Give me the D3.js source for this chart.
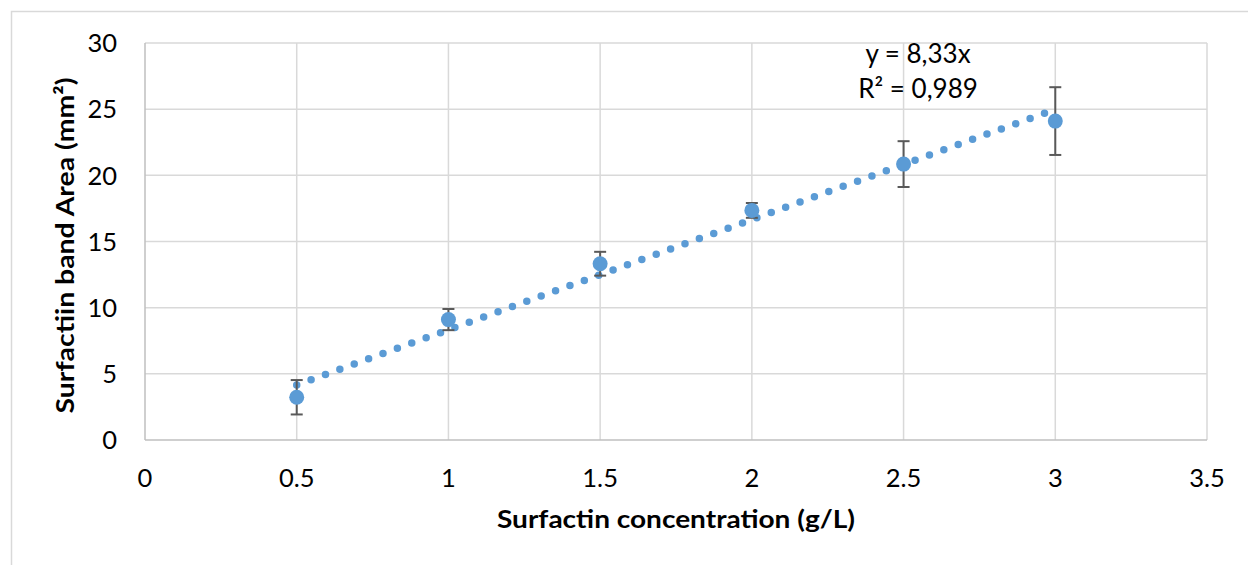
<!DOCTYPE html>
<html>
<head>
<meta charset="utf-8">
<script src="https://cdn.jsdelivr.net/npm/d3@7"></script>
<style>
  body { margin: 0; background: #fff; }
  text { font-family: Lato, "Open Sans", sans-serif; fill: #000; }
</style>
</head>
<body>
<div id="chart"></div>
<script>
// data
const concentration = [0.5, 1, 1.5, 2, 2.5, 3];
const bandArea = [3.23, 9.1, 13.32, 17.35, 20.85, 24.1];
const errorSize = [1.3, 0.8, 0.9, 0.56, 1.73, 2.56];
const slope = 8.33;
const eqLabel = 'y = 8,33x';
const r2Label = 'R² = 0,989';
const xTicks = [0, 0.5, 1, 1.5, 2, 2.5, 3, 3.5];
const yTicks = [0, 5, 10, 15, 20, 25, 30];

const width = 1248, height = 565;
const margin = {top: 43, right: 41, bottom: 125, left: 145};

const svg = d3.select('#chart').append('svg')
    .attr('width', width)
    .attr('height', height);

// outer chart border
svg.append('rect')
    .attr('x', 11.5).attr('y', 11.5)
    .attr('width', width + 10).attr('height', height + 10)
    .style('fill', 'none')
    .style('stroke', '#d9d9d9')
    .style('stroke-width', 1.5);

const x = d3.scaleLinear().domain([0, 3.5]).range([margin.left, width - margin.right]);
const y = d3.scaleLinear().domain([0, 30]).range([height - margin.bottom, margin.top]);

const g = svg.append('g');

// gridlines
g.selectAll('.vgrid').data(xTicks.slice(1))
    .join('line')
    .attr('x1', d => x(d)).attr('x2', d => x(d))
    .attr('y1', y(0)).attr('y2', y(30))
    .style('stroke', '#d9d9d9').style('stroke-width', 1.5);

g.selectAll('.hgrid').data(yTicks.slice(1))
    .join('line')
    .attr('x1', x(0)).attr('x2', x(3.5))
    .attr('y1', d => y(d)).attr('y2', d => y(d))
    .style('stroke', '#d9d9d9').style('stroke-width', 1.5);

// axis lines
g.append('line')
    .attr('x1', x(0)).attr('x2', x(0))
    .attr('y1', y(0)).attr('y2', y(30))
    .style('stroke', '#bfbfbf').style('stroke-width', 1.5);
g.append('line')
    .attr('x1', x(0)).attr('x2', x(3.5))
    .attr('y1', y(0)).attr('y2', y(0))
    .style('stroke', '#bfbfbf').style('stroke-width', 1.5);

// tick labels
g.selectAll('.xlab').data(xTicks)
    .join('text')
    .attr('x', d => x(d))
    .attr('y', y(0) + 47)
    .attr('text-anchor', 'middle')
    .style('font-size', '25.5px')
    .text(d => d);

g.selectAll('.ylab').data(yTicks)
    .join('text')
    .attr('x', x(0) - 28)
    .attr('y', d => y(d))
    .attr('dy', '0.36em')
    .attr('text-anchor', 'end')
    .style('font-size', '25.5px')
    .text(d => d);

// axis titles
svg.append('text')
    .attr('x', (x(0) + x(3.5)) / 2)
    .attr('y', 528)
    .attr('text-anchor', 'middle')
    .attr('textLength', 358)
    .attr('lengthAdjust', 'spacingAndGlyphs')
    .style('font-size', '24px')
    .style('font-weight', 'bold')
    .text('Surfactin concentration (g/L)');

svg.append('text')
    .attr('transform', `translate(74,${(y(0) + y(30)) / 2 + 4}) rotate(-90)`)
    .attr('text-anchor', 'middle')
    .attr('textLength', 336)
    .attr('lengthAdjust', 'spacingAndGlyphs')
    .style('font-size', '24px')
    .style('font-weight', 'bold')
    .text('Surfactiin band Area (mm²)');

// trendline (dotted)
const trend = d3.line().x(d => x(d)).y(d => y(slope * d));
g.append('path')
    .datum([0.5, 3])
    .attr('d', trend)
    .style('fill', 'none')
    .style('stroke', '#5b9bd5')
    .style('stroke-width', 7.5)
    .style('stroke-linecap', 'round')
    .style('stroke-dasharray', '0 15.3');

const pts = concentration.map((c, i) => ({x: c, y: bandArea[i], e: errorSize[i]}));

// error bars
const eb = g.selectAll('.err').data(pts).join('g');
eb.append('line')
    .attr('x1', d => x(d.x)).attr('x2', d => x(d.x))
    .attr('y1', d => y(d.y - d.e)).attr('y2', d => y(d.y + d.e))
    .style('stroke', '#595959').style('stroke-width', 2);
eb.append('line')
    .attr('x1', d => x(d.x) - 6).attr('x2', d => x(d.x) + 6)
    .attr('y1', d => y(d.y + d.e)).attr('y2', d => y(d.y + d.e))
    .style('stroke', '#595959').style('stroke-width', 2);
eb.append('line')
    .attr('x1', d => x(d.x) - 6).attr('x2', d => x(d.x) + 6)
    .attr('y1', d => y(d.y - d.e)).attr('y2', d => y(d.y - d.e))
    .style('stroke', '#595959').style('stroke-width', 2);

// markers
g.selectAll('.pt').data(pts)
    .join('circle')
    .attr('cx', d => x(d.x))
    .attr('cy', d => y(d.y))
    .attr('r', 7.5)
    .style('fill', '#5b9bd5');

// equation label
svg.append('text')
    .attr('x', 918).attr('y', 63)
    .attr('text-anchor', 'middle')
    .style('font-size', '26px')
    .text(eqLabel);
svg.append('text')
    .attr('x', 918).attr('y', 98)
    .attr('text-anchor', 'middle')
    .style('font-size', '26px')
    .text(r2Label);
</script>
</body>
</html>
